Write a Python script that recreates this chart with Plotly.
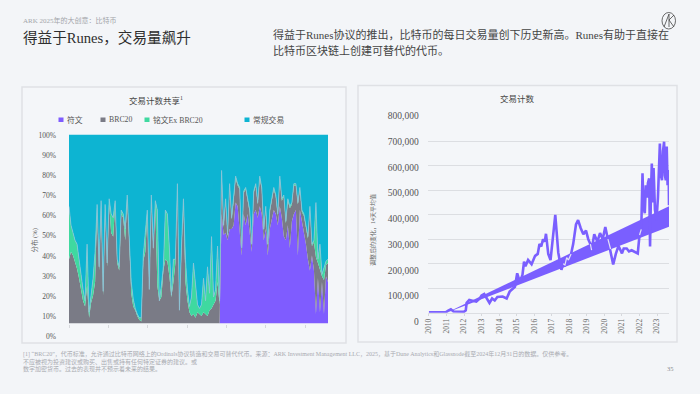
import plotly.graph_objects as go

W, H = 700, 394
BG = "#f3f5f8"
SERIF = "Liberation Serif, Noto Sans CJK SC, serif"

# ---- left chart data: share of transaction count (%) ----
share_idx = list(range(130))
ordinals = [0] * 76 + [
    58,47,48,44,50,50,52,64,62,50,36,58,52,58,48,38,58,60,56,62,58,44,50,36,50,56,60,
    58,52,62,56,46,44,52,40,54,58,60,36,60,54,50,42,34,28,36,28,5,24,6,22,5,25,22]
brc20 = [
    34,38,36,33,29,24,17,12,9,20,3,11,15,22,61,28,63,15,61,30,64,48,46,63,32,28,58,56,44,66,
    43,16,9,7,4,2,1,33,38,58,18,66,39,63,20,12,14,28,34,33,25,14,22,32,72,7,38,64,22,12,
    6,4,5,3,6,5,4,6,5,4,7,8,10,12,22,10,
    22,4,17,2,23,5,13,13,11,21,3,11,19,7,11,3,11,13,7,15,13,5,11,5,9,9,11,9,5,15,9,21,9,13,21,9,15,13,27,11,5,7,9,11,33,5,15,
    30,8,22,3,18,6,10]
ordinals_ex_brc20 = [
    28,14,12,11,13,10,7,6,3,22,3,5,9,16,2,2,2,2,2,2,2,10,10,2,2,2,2,2,6,2,
    1,6,4,1,1,1,2,3,10,2,0,2,1,2,40,0,6,2,26,25,15,1,12,2,2,0,2,2,12,6,
    3,10,27,19,4,3,6,18,7,26,9,38,4,6,19,2,
    1,1,1,1,1,1,1,1,1,1,1,1,1,1,1,1,1,1,1,1,1,1,1,1,1,1,1,1,1,1,1,1,1,1,1,1,1,1,1,1,1,1,1,1,1,1,1,
    29,2,14,1,7,2,2]
regular = [100 - a - b - c for a, b, c in zip(ordinals, brc20, ordinals_ex_brc20)]
share_names = ["符文", "BRC20", "铭文Ex BRC20", "常规交易"]
share_colors = ["#7f5cff", "#7a7b86", "#3fd9a0", "#0db4d2"]
pct_ticks = [0, 10, 20, 30, 40, 50, 60, 70, 80, 90, 100]

# ---- right chart data: transaction count, 14-day average ----
tx_year = [
    2010.0,2010.5,2010.95,2011.1,2011.25,2011.4,2011.7,2012.0,2012.1,2012.15,2012.3,2012.5,2012.7,2012.9,
    2013.0,2013.15,2013.3,2013.45,2013.6,2013.75,2013.9,2014.05,2014.2,2014.43,2014.6,2014.9,2015.03,
    2015.18,2015.33,2015.42,2015.5,2015.65,2015.75,2015.85,2016.05,2016.2,2016.3,2016.4,2016.5,2016.6,2016.67,2016.8,2016.93,2017.08,2017.2,
    2017.37,2017.45,2017.55,2017.65,2017.75,2017.85,2017.95,2018.1,2018.22,2018.38,2018.5,2018.65,2018.8,
    2018.95,2019.08,2019.2,2019.27,2019.42,2019.6,2019.75,2019.9,2020.05,2020.2,2020.35,2020.5,2020.65,2020.8,
    2021.0,2021.1,2021.27,2021.4,2021.55,2021.7,2021.9,2022.0,2022.1,2022.17,2022.23,2022.3,2022.36,2022.42,2022.48,2022.55,
    2022.6,2022.65,2022.7,2022.76,2022.8,2022.88,2022.97,2023.05,2023.16,2023.22,2023.28,2023.34,2023.4,2023.45,2023.5,2023.55,2023.6,2023.66,2023.68]
tx_count = [
    1500,1000,1500,8000,14000,5000,3000,4000,10000,40000,52000,48000,45000,58000,
    70000,76000,58000,40000,58000,50000,64000,65000,66000,58000,86000,106000,161000,
    126000,154000,208000,190000,215000,205000,198000,232000,240000,280000,270000,300000,290000,322000,240000,215000,305000,399000,
    245000,210000,175000,200000,195000,225000,215000,240000,280000,360000,378000,345000,320000,
    335000,300000,280000,255000,320000,290000,325000,300000,350000,300000,260000,197000,240000,273000,
    242000,262000,262000,250000,255000,250000,242000,317000,340000,569000,430000,406000,520000,470000,530000,548000,
    270000,480000,609000,450000,590000,420000,378000,470000,690000,560000,541000,660000,698000,560000,541000,678000,520000,582000,439000]
band_year = [2011.0, 2023.68]
band_low = [0, 351000]
band_high = [0, 435000]
count_ticks = [0, 100000, 200000, 300000, 400000, 500000, 600000, 700000, 800000]
year_ticks = list(range(2010, 2024))

# pixel helpers for layout only
def px(x): return x / W
def py(y): return 1 - y / H

fig = go.Figure()

# left stacked areas; the topmost mark series carries a pale edge, as the blurred spikes look in the source
edge = {"符文": 0, "BRC20": 0, "铭文Ex BRC20": 0.7, "常规交易": 0}
for vals, name, col in zip([ordinals, brc20, ordinals_ex_brc20, regular], share_names, share_colors):
    fig.add_trace(go.Scatter(x=share_idx, y=vals, name=name, stackgroup="s", mode="lines",
                             line=dict(width=edge[name], color="#94c6d8"), fillcolor=col, showlegend=False,
                             xaxis="x", yaxis="y"))
fig.add_trace(go.Scatter(x=[None], y=[None], xaxis="x", yaxis="y2", showlegend=False))

# right band and line
low_at = lambda yr: band_low[1] * (yr - band_year[0]) / (band_year[1] - band_year[0])
high_at = lambda yr: band_high[1] * (yr - band_year[0]) / (band_year[1] - band_year[0])
fig.add_trace(go.Scatter(x=band_year + band_year[::-1], y=band_low + band_high[::-1], fill="toself",
                         mode="lines", line=dict(width=0, color="#7a5fff"), fillcolor="#7a5fff",
                         showlegend=False, xaxis="x3", yaxis="y3"))
fig.add_trace(go.Scatter(x=tx_year, y=tx_count, mode="lines", line=dict(width=2.6, color="#7a5fff"),
                         showlegend=False, xaxis="x3", yaxis="y3"))
in_band = [v if low_at(t) <= v <= high_at(t) else None for t, v in zip(tx_year, tx_count)]
fig.add_trace(go.Scatter(x=tx_year, y=in_band, mode="lines", line=dict(width=1.2, color="#e4e2f6"),
                         connectgaps=False, showlegend=False, xaxis="x3", yaxis="y3"))
fig.add_trace(go.Scatter(x=[None], y=[None], xaxis="x3", yaxis="y4", showlegend=False))

shapes = []
def panel(x0, y0, x1, y1):
    shapes.append(dict(type="rect", xref="paper", yref="paper", x0=px(x0), x1=px(x1), y0=py(y1), y1=py(y0),
                       line=dict(color="#dfe1e5", width=1.5), fillcolor="#f4f6f9", layer="below"))
panel(22, 87, 346, 343)
panel(358, 85.5, 677, 342)

# logo
shapes.append(dict(type="circle", xref="paper", yref="paper", x0=px(662), x1=px(675.5), y0=py(29), y1=py(12.5),
                   line=dict(color="#444", width=0.8)))
shapes.append(dict(type="path", xref="paper", yref="paper",
                   path=f"M {px(664)} {py(27)} L {px(669)} {py(14)} L {px(669)} {py(27)} M {px(669)} {py(20)} L {px(674)} {py(15)} M {px(669)} {py(20)} L {px(674)} {py(27)}",
                   line=dict(color="#444", width=0.8)))

annotations = []
def text(x, y, s, size, color="#444", anchor="left", angle=0):
    annotations.append(dict(xref="paper", yref="paper", x=px(x), y=py(y), text=s, showarrow=False,
                            xanchor=anchor, yanchor="middle", textangle=angle, borderpad=0,
                            font=dict(family=SERIF, size=size, color=color)))

text(22, 20, "ARK 2025年的大创意：比特币", 7, "#a3a5aa")
text(21.5, 37, "得益于Runes，交易量飙升", 14.6, "#2e2e2e")
text(272, 34, "得益于Runes协议的推出，比特币的每日交易量创下历史新高。Runes有助于直接在", 11, "#444")
text(272, 50, "比特币区块链上创建可替代的代币。", 11, "#444")

text(156, 101, "交易计数共享<sup>1</sup>", 8.5, "#444", "center")
text(517.5, 99, "交易计数", 8.5, "#444", "center")
text(33.5, 241, "分布 (%)", 6.5, "#666", "center", -90)
text(373, 230, "调整后的变化，14天平均值", 6, "#666", "center", -90)

legend_x = [(61, 66), (103, 108), (147, 152), (247, 252)]
for (sx, tx), nm, col in zip(legend_x, share_names, share_colors):
    shapes.append(dict(type="rect", xref="paper", yref="paper", x0=px(sx - 2.5), x1=px(sx + 2.5),
                       y0=py(122), y1=py(117.5), fillcolor=col, line=dict(width=0)))
    text(tx, 119.7, nm, 7.8, "#555")

foot = "#a8aab0"
text(22, 354, "[1] “BRC20”，代币标准，允许通过比特币网络上的Ordinals协议铸造和交易可替代代币。来源：ARK Investment Management LLC，2025，基于Dune Analytics和Glassnode截至2024年12月31日的数据。仅供参考。", 6, foot)
text(22, 361.5, "不应被视为投资建议或购买、出售或持有任何特定证券的建议。或", 6, foot)
text(22, 369, "数字加密货币。过去的表现并不预示着未来的结果。", 6, foot)
text(666, 368, "35", 6.5, "#8a8c90")

fig.update_layout(
    width=W, height=H, margin=dict(l=0, r=0, t=0, b=0, pad=0), autosize=False,
    paper_bgcolor=BG, plot_bgcolor="rgba(0,0,0,0)", shapes=shapes, annotations=annotations,
    font=dict(family=SERIF),
    xaxis=dict(domain=[px(69), px(328)], range=[0, 129], tick0=0, dtick=19.6, showticklabels=False,
               ticks="outside", ticklen=3, tickcolor="#d6d8dc", showgrid=False, zeroline=False, anchor="y",
               showline=False, automargin=False),
    yaxis=dict(domain=[py(323.5), py(134.5)], range=[0, 100], showticklabels=False, showgrid=False,
               zeroline=False, ticks="", anchor="x", automargin=False),
    yaxis2=dict(domain=[py(336.5), py(135)], range=[0, 100], tickvals=pct_ticks, automargin=False,
                ticktext=[f"{v}%" for v in pct_ticks], showgrid=False, zeroline=False, ticks="",
                ticklabelstandoff=12, tickfont=dict(size=7.5, color="#555", family=SERIF), anchor="x", side="left"),
    xaxis3=dict(domain=[px(427.7), px(669)], range=[2009.93, 2023.68], tickvals=year_ticks, automargin=False,
                ticktext=[str(y) for y in year_ticks], tickangle=-90, ticks="outside", ticklen=2,
                tickcolor="#d6d8dc", showgrid=False, zeroline=False, showline=True, linecolor="#dcdee2",
                tickfont=dict(size=7.5, color="#666", family=SERIF), anchor="y3"),
    yaxis3=dict(domain=[py(312.7), py(116.7)], range=[0, 800000], tickvals=count_ticks, showticklabels=False,
                showgrid=True, gridcolor="#dcdee2", gridwidth=1, zeroline=False, anchor="x3", automargin=False),
    yaxis4=dict(domain=[py(321.7), py(116)], range=[0, 800000], tickvals=count_ticks, tickformat=",d",
                showgrid=False, zeroline=False, ticks="", ticklabelstandoff=8, automargin=False,
                tickfont=dict(size=9.5, color="#555", family=SERIF), anchor="x3", side="left"),
)

fig.write_html("out.html", config={"displayModeBar": False},
               post_script="document.documentElement.style.margin='0';document.body.style.margin='0';document.body.style.overflow='hidden';"
                           "var g=document.querySelector('.plotly-graph-div');g.style.position='fixed';g.style.left='0';g.style.top='0';")
